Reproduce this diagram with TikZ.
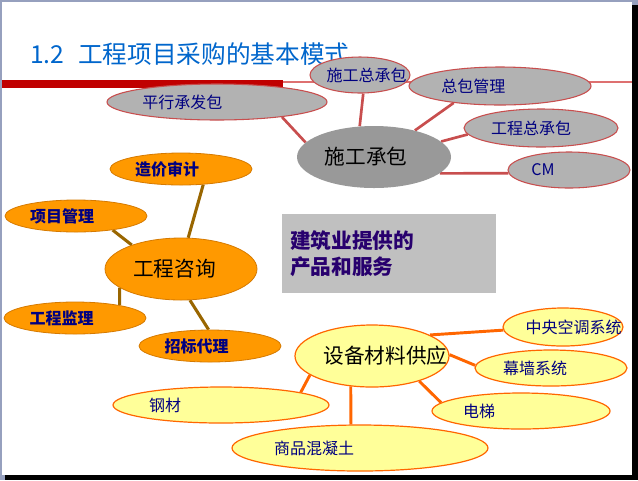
\documentclass[tikz,border=0pt]{standalone}
\usepackage{fontspec}
\setmainfont{Noto Sans CJK SC}
\usetikzlibrary{shapes.geometric}

\definecolor{framegray}{RGB}{150,160,190}
\definecolor{titleblue}{RGB}{0,102,204}
\definecolor{barred}{RGB}{192,0,0}
\definecolor{thinred}{RGB}{222,112,112}
\definecolor{linkred}{RGB}{200,78,78}
\definecolor{grayfill}{RGB}{178,178,178}
\definecolor{darkgray}{RGB}{153,153,153}
\definecolor{orangefill}{RGB}{255,153,0}
\definecolor{orangeedge}{RGB}{214,122,0}
\definecolor{brownlink}{RGB}{153,102,0}
\definecolor{yellowfill}{RGB}{255,255,153}
\definecolor{orangelink}{RGB}{255,102,0}
\definecolor{boxgray}{RGB}{192,192,192}
\definecolor{navytext}{RGB}{0,0,128}
\definecolor{boxtext}{RGB}{40,0,110}

\pgfdeclarelayer{bg}
\pgfdeclarelayer{links}
\pgfsetlayers{bg,links,main}

\tikzset{
  graybub/.style={ellipse, draw=linkred, fill=grayfill, line width=0.8pt, inner sep=0pt},
  hubgray/.style={ellipse, fill=darkgray, inner sep=0pt, minimum width=115.5pt, minimum height=46.5pt},
  orangebub/.style={ellipse, draw=orangeedge, fill=orangefill, line width=0.6pt, inner sep=0pt},
  yellowbub/.style={ellipse, draw=orangelink, fill=yellowfill, line width=0.9pt, inner sep=0pt},
  smalltxt/.style={inner sep=0pt, text=navytext, font=\fontsize{12}{14}\selectfont},
  boldtxt/.style={inner sep=0pt, text=navytext, font=\fontsize{12}{14}\selectfont\bfseries},
  bigtxt/.style={inner sep=0pt, text=black, font=\fontsize{15.5}{18}\selectfont},
  redlink/.style={linkred, line width=2pt},
  brownline/.style={brownlink, line width=2.3pt},
  orangeline/.style={orangelink, line width=2.2pt}
}

\begin{document}
\begin{tikzpicture}[x=0.75pt,y=0.75pt,yscale=-1,xscale=1]
\useasboundingbox (0,0) rectangle (638,480);

\begin{pgfonlayer}{bg}
%Shape: slide frame
\fill[framegray] (0,0) rectangle (638,480);
\fill[white] (2,2) rectangle (632,475);
\fill[black] (632,5) rectangle (638,480);
\fill[black] (5,475) rectangle (638,480);
%Shape: header bar
\fill[barred] (2,80) rectangle (283,87.5);
\draw[thinred, line width=1.5pt] (283,81.5) -- (632,81.5);
\end{pgfonlayer}

% Title
\node[anchor=west, inner sep=0pt, text=titleblue, font=\fontsize{18.5}{22}\selectfont] (title) at (30,54) {1.2\hspace{0.55em}工程项目采购的基本模式};

%Shape: construction contracting
\node[hubgray] (sgcb) at (374,157) {};
\node[bigtxt] (sgcb-t) at ([xshift=-6]sgcb.center) {施工承包};
\node[graybub, minimum width=165pt, minimum height=27pt] (pxcfb) at (217,102) {};
\node[smalltxt] (pxcfb-t) at ([xshift=-26]pxcfb.center) {平行承发包};
\node[graybub, minimum width=75pt, minimum height=27pt] (sgzcb) at (360,75) {};
\node[smalltxt] (sgzcb-t) at ([xshift=5]sgzcb.center) {施工总承包};
\node[graybub, minimum width=136.5pt, minimum height=28.5pt] (zbgl) at (500,86) {};
\node[smalltxt] (zbgl-t) at ([xshift=-20]zbgl.center) {总包管理};
\node[graybub, minimum width=115.5pt, minimum height=28.5pt] (gczcb) at (541,128) {};
\node[smalltxt] (gczcb-t) at ([xshift=-7.5]gczcb.center) {工程总承包};
\node[graybub, minimum width=91.5pt, minimum height=27pt] (cm) at (569,170) {};
\node[smalltxt] (cm-t) at ([xshift=-19.5]cm.center) {CM};

%Shape: consulting
\node[orangebub, minimum width=114pt, minimum height=46.5pt] (gczx) at (181,269) {};
\node[bigtxt] (gczx-t) at ([xshift=-5]gczx.center) {工程咨询};
\node[orangebub, minimum width=106.5pt, minimum height=24pt] (zjsj) at (181,169) {};
\node[boldtxt] (zjsj-t) at ([xshift=-10.5]zjsj.center) {造价审计};
\node[orangebub, minimum width=106.5pt, minimum height=24pt] (xmgl) at (76,216) {};
\node[boldtxt] (xmgl-t) at ([xshift=-10.5]xmgl.center) {项目管理};
\node[orangebub, minimum width=106.5pt, minimum height=24pt] (gcjl) at (75,318) {};
\node[boldtxt] (gcjl-t) at ([xshift=-10]gcjl.center) {工程监理};
\node[orangebub, minimum width=106.5pt, minimum height=24pt] (zbdl) at (210,346) {};
\node[boldtxt] (zbdl-t) at ([xshift=-10]zbdl.center) {招标代理};

% Text box
\node[fill=boxgray, minimum width=160.5pt, minimum height=59.25pt, text width=148.5pt, inner sep=6pt, align=left, text=boxtext, font=\fontsize{15.5}{19.5}\selectfont\bfseries] (cpfw) at (389,253.5) {建筑业提供的\\产品和服务};

%Shape: equipment and materials
\node[yellowbub, minimum width=115.5pt, minimum height=46.5pt] (sbcl) at (372,356) {};
\node[bigtxt] (sbcl-t) at ([xshift=10]sbcl.center) {设备材料供应};
\node[yellowbub, minimum width=90pt, minimum height=28.5pt] (zykt) at (563,327) {};
\node[smalltxt] (zykt-t) at ([xshift=8]zykt.center) {中央空调系统};
\node[yellowbub, minimum width=114pt, minimum height=27pt] (mqxt) at (551,368) {};
\node[smalltxt] (mqxt-t) at ([xshift=-12]mqxt.center) {幕墙系统};
\node[yellowbub, minimum width=133.5pt, minimum height=27pt] (dt) at (521,411) {};
\node[smalltxt] (dt-t) at ([xshift=-31.5]dt.center) {电梯};
\node[yellowbub, minimum width=192pt, minimum height=34.5pt] (sphnt) at (360,448) {};
\node[smalltxt] (sphnt-t) at ([xshift=-34.5]sphnt.center) {商品混凝土};
\node[yellowbub, minimum width=162pt, minimum height=27pt] (gc) at (221,405) {};
\node[smalltxt] (gc-t) at ([xshift=-42]gc.center) {钢材};

\begin{pgfonlayer}{links}
% Links
\draw[redlink] (pxcfb.-13) -- (sgcb.168);
\draw[redlink] (sgzcb.-80) -- (sgcb.115);
\draw[redlink] (zbgl.-160) -- (sgcb.33);
\draw[redlink] (gczcb.-175) -- (sgcb.13);
\draw[redlink] (cm.-177) -- (sgcb.-14);
\draw[brownline] (zjsj.-35) -- (gczx.77);
\draw[brownline] (xmgl.-21) -- (gczx.154);
\draw[brownline] (gcjl.16) -- (gczx.-163);
\draw[brownline] (zbdl.95) -- (gczx.-74);
\draw[orangeline] (zykt.-177) -- (sbcl.20);
\draw[orangeline] (mqxt.178) -- (sbcl.1);
\draw[orangeline] (dt.174) -- (sbcl.-28);
\draw[orangeline] (sphnt.111) -- (sbcl.-125);
\draw[orangeline] (gc.9) -- (sbcl.-163);
\end{pgfonlayer}

\end{tikzpicture}
\end{document}
